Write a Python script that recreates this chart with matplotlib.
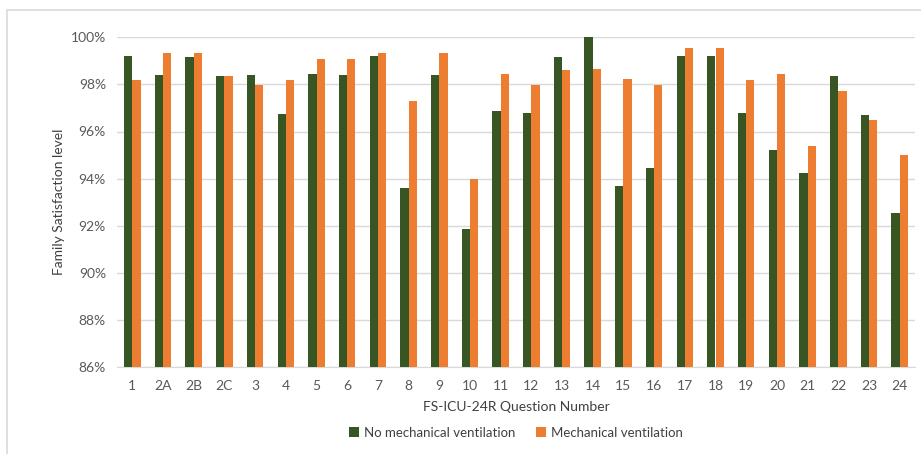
import matplotlib
matplotlib.use("Agg")
import matplotlib.pyplot as plt
import numpy as np
from matplotlib.patches import Rectangle
from matplotlib.ticker import PercentFormatter

categories = ["1", "2A", "2B", "2C", "3", "4", "5", "6", "7", "8", "9", "10", "11", "12",
              "13", "14", "15", "16", "17", "18", "19", "20", "21", "22", "23", "24"]
no_mech = [99.2, 98.4, 99.18, 98.34, 98.4, 96.74, 98.44, 98.4, 99.22, 93.6, 98.4, 91.87,
           96.87, 96.77, 99.18, 100.0, 93.67, 94.45, 99.22, 99.22, 96.8, 95.2, 94.23,
           98.37, 96.71, 92.56]
mech = [98.2, 99.35, 99.32, 98.34, 97.99, 98.19, 99.09, 99.09, 99.35, 97.31, 99.35, 93.98,
        98.43, 97.96, 98.62, 98.65, 98.21, 97.96, 99.56, 99.56, 98.19, 98.43, 95.37,
        97.72, 96.49, 95.01]
series_names = ["No mechanical ventilation", "Mechanical ventilation"]
yticks = [86, 88, 90, 92, 94, 96, 98, 100]

plt.rcParams['font.family'] = ['Lato', 'DejaVu Sans']

fig = plt.figure(figsize=(9.21, 4.54), dpi=100)
fig.patches.append(Rectangle((7/921, -0.1), 1.2, 1 - 10/454 + 0.1, transform=fig.transFigure,
                             fill=False, edgecolor="#D9D9D9", linewidth=1.2))
ax = fig.add_axes([117/921, 1 - 367/454, (915 - 117)/921, (367 - 37.3)/454])

x = np.arange(len(categories))
w = 0.27
green = "#375623"
orange = "#ED7D31"
ax.bar(x - w/2, no_mech, width=w, color=green, label=series_names[0], zorder=3)
ax.bar(x + w/2, mech, width=w, color=orange, label=series_names[1], zorder=3)

ax.set_ylim(86, 100)
ax.set_xlim(-0.5, len(categories) - 0.5)
ax.set_yticks(yticks)
ax.yaxis.set_major_formatter(PercentFormatter(decimals=0))
ax.set_xticks(x)
ax.set_xticklabels(categories)
ax.grid(axis="y", color="#D9D9D9", linewidth=1, zorder=0)
for s in ["top", "right", "left"]:
    ax.spines[s].set_visible(False)
ax.spines["bottom"].set_color("#D9D9D9")
ax.tick_params(axis="both", length=0, labelsize=10, colors="#595959")
ax.tick_params(axis="x", pad=9)
ax.tick_params(axis="y", pad=8)
ax.set_xlabel("FS-ICU-24R Question Number", fontsize=10, color="#404040", labelpad=7)
ax.set_ylabel("Family Satisfaction level", fontsize=10, color="#404040", labelpad=4)

ax.legend(loc="upper center", bbox_to_anchor=(0.5, -0.145), ncol=2, frameon=False,
          fontsize=9.5, handlelength=0.7, handleheight=0.7, handletextpad=0.4,
          columnspacing=1.6, labelcolor="#404040")

fig.savefig("out.png", dpi=100)
